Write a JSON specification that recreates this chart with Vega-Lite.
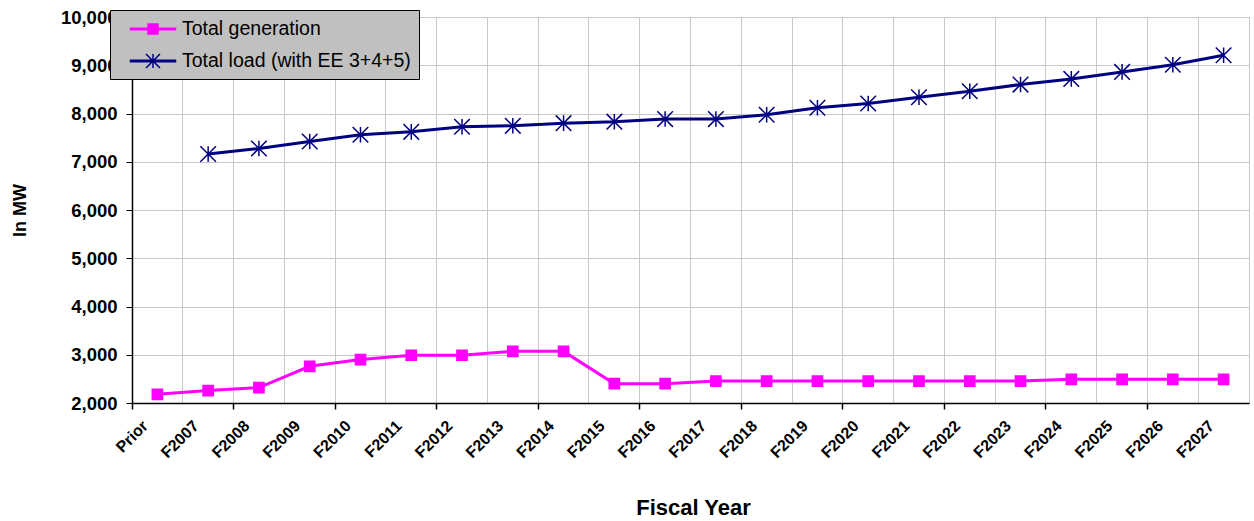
{
  "$schema": "https://vega.github.io/schema/vega-lite/v6.json",
  "width": 1117,
  "height": 386,
  "autosize": {"type": "none"},
  "padding": {"left": 132, "top": 17, "right": 5, "bottom": 118},
  "background": "white",
  "config": {"view": {"stroke": "#c8c8c8"}, "font": "Liberation Sans"},
  "data": {
    "values": [
      {"year": "Prior", "series": "Total generation", "value": 2180},
      {"year": "F2007", "series": "Total generation", "value": 2257},
      {"year": "F2008", "series": "Total generation", "value": 2320},
      {"year": "F2009", "series": "Total generation", "value": 2760},
      {"year": "F2010", "series": "Total generation", "value": 2900},
      {"year": "F2011", "series": "Total generation", "value": 2990},
      {"year": "F2012", "series": "Total generation", "value": 2990},
      {"year": "F2013", "series": "Total generation", "value": 3070},
      {"year": "F2014", "series": "Total generation", "value": 3070},
      {"year": "F2015", "series": "Total generation", "value": 2400},
      {"year": "F2016", "series": "Total generation", "value": 2400},
      {"year": "F2017", "series": "Total generation", "value": 2455},
      {"year": "F2018", "series": "Total generation", "value": 2455},
      {"year": "F2019", "series": "Total generation", "value": 2455},
      {"year": "F2020", "series": "Total generation", "value": 2455},
      {"year": "F2021", "series": "Total generation", "value": 2455},
      {"year": "F2022", "series": "Total generation", "value": 2455},
      {"year": "F2023", "series": "Total generation", "value": 2455},
      {"year": "F2024", "series": "Total generation", "value": 2490},
      {"year": "F2025", "series": "Total generation", "value": 2490},
      {"year": "F2026", "series": "Total generation", "value": 2490},
      {"year": "F2027", "series": "Total generation", "value": 2490},
      {"year": "F2007", "series": "Total load (with EE 3+4+5)", "value": 7160},
      {"year": "F2008", "series": "Total load (with EE 3+4+5)", "value": 7275},
      {"year": "F2009", "series": "Total load (with EE 3+4+5)", "value": 7420},
      {"year": "F2010", "series": "Total load (with EE 3+4+5)", "value": 7560},
      {"year": "F2011", "series": "Total load (with EE 3+4+5)", "value": 7620},
      {"year": "F2012", "series": "Total load (with EE 3+4+5)", "value": 7725},
      {"year": "F2013", "series": "Total load (with EE 3+4+5)", "value": 7745},
      {"year": "F2014", "series": "Total load (with EE 3+4+5)", "value": 7800},
      {"year": "F2015", "series": "Total load (with EE 3+4+5)", "value": 7830},
      {"year": "F2016", "series": "Total load (with EE 3+4+5)", "value": 7885},
      {"year": "F2017", "series": "Total load (with EE 3+4+5)", "value": 7885},
      {"year": "F2018", "series": "Total load (with EE 3+4+5)", "value": 7975},
      {"year": "F2019", "series": "Total load (with EE 3+4+5)", "value": 8120},
      {"year": "F2020", "series": "Total load (with EE 3+4+5)", "value": 8207},
      {"year": "F2021", "series": "Total load (with EE 3+4+5)", "value": 8337},
      {"year": "F2022", "series": "Total load (with EE 3+4+5)", "value": 8462},
      {"year": "F2023", "series": "Total load (with EE 3+4+5)", "value": 8600},
      {"year": "F2024", "series": "Total load (with EE 3+4+5)", "value": 8717},
      {"year": "F2025", "series": "Total load (with EE 3+4+5)", "value": 8862},
      {"year": "F2026", "series": "Total load (with EE 3+4+5)", "value": 9010},
      {"year": "F2027", "series": "Total load (with EE 3+4+5)", "value": 9207}
    ]
  },
  "encoding": {
    "x": {
      "field": "year",
      "type": "ordinal",
      "sort": null,
      "scale": {"type": "band", "paddingInner": 0, "paddingOuter": 0},
      "axis": {
        "title": "Fiscal Year",
        "bandPosition": 0,
        "grid": true,
        "gridColor": "#c8c8c8",
        "gridWidth": 1,
        "domainColor": "#000000",
        "domainWidth": 1.5,
        "tickSize": 6,
        "tickWidth": 1.5,
        "tickColor": {
          "condition": {
            "test": "indexof(['Prior','F2008','F2010','F2012','F2014','F2016','F2018','F2020','F2022','F2024','F2026'], datum.value) >= 0",
            "value": "#000000"
          },
          "value": "transparent"
        },
        "labelAngle": -45,
        "labelAlign": "right",
        "labelBaseline": "middle",
        "labelOffset": -12,
        "labelPadding": 14,
        "labelFont": "Liberation Sans",
        "labelFontWeight": "bold",
        "labelFontSize": 16,
        "labelColor": "#000000",
        "titleFont": "Liberation Sans",
        "titleFontWeight": "bold",
        "titleFontSize": 22,
        "titleColor": "#000000",
        "titleX": 561,
        "titleY": 104,
        "titleAlign": "center",
        "titleBaseline": "middle"
      }
    },
    "y": {
      "field": "value",
      "type": "quantitative",
      "scale": {"domain": [2000, 10000], "nice": false, "zero": false},
      "axis": {
        "title": "In MW",
        "values": [2000, 3000, 4000, 5000, 6000, 7000, 8000, 9000, 10000],
        "format": ",d",
        "grid": true,
        "gridColor": "#c8c8c8",
        "domainColor": "#000000",
        "domainWidth": 1.5,
        "tickColor": "#000000",
        "tickSize": 6,
        "labelPadding": 9,
        "labelFont": "Liberation Sans",
        "labelFontWeight": "bold",
        "labelFontSize": 18.5,
        "labelColor": "#000000",
        "titleFont": "Liberation Sans",
        "titleFontWeight": "bold",
        "titleFontSize": 18,
        "titleColor": "#000000",
        "titleAngle": 270,
        "titleX": -112,
        "titleY": 193,
        "titleAlign": "center",
        "titleBaseline": "middle"
      }
    }
  },
  "layer": [
    {
      "mark": {"type": "line", "strokeWidth": 3},
      "encoding": {
        "stroke": {
          "field": "series",
          "type": "nominal",
          "scale": {
            "domain": ["Total generation", "Total load (with EE 3+4+5)"],
            "range": ["#ff00ff", "#000080"]
          },
          "legend": {
            "orient": "none",
            "legendX": -22,
            "legendY": -7,
            "title": null,
            "fillColor": "#c0c0c0",
            "strokeColor": "#000000",
            "padding": 8,
            "symbolSize": 400,
            "symbolOffset": 24,
            "symbolStrokeWidth": 1.5,
            "labelOffset": 18,
            "labelFont": "Liberation Sans",
            "labelFontSize": 19.5,
            "labelColor": "#000000",
            "labelLimit": 400,
            "rowPadding": 11,
            "encode": {
              "symbols": {
                "update": {
                  "shape": {"signal": "datum.value === 'Total generation' ? 'M-2.25,-0.08H2.25V0.08H-2.25Z M-0.5,-0.5H0.5V0.5H-0.5Z' : 'M-2.25,-0.08H2.25V0.08H-2.25Z M0,-0.7V0.7 M-0.7,-0.7L0.7,0.7 M-0.7,0.7L0.7,-0.7'"},
                  "fill": {"signal": "datum.value === 'Total generation' ? '#ff00ff' : '#000080'"},
                  "stroke": {"signal": "datum.value === 'Total generation' ? '#ff00ff' : '#000080'"},
                  "strokeWidth": {"value": 1.5},
                  "opacity": {"value": 1}
                }
              }
            }
          }
        }
      }
    },
    {
      "transform": [{"filter": "datum.series === 'Total generation'"}],
      "mark": {
        "type": "point",
        "shape": "M-0.85,-0.85H0.85V0.85H-0.85Z",
        "size": 144,
        "filled": true,
        "fill": "#ff00ff",
        "stroke": "#ff00ff",
        "strokeWidth": 1.5,
        "opacity": 1
      }
    },
    {
      "transform": [{"filter": "datum.series !== 'Total generation'"}],
      "mark": {
        "type": "point",
        "shape": "M0,-1.3V1.3M-1.3,-1.3L1.3,1.3M-1.3,1.3L1.3,-1.3",
        "size": 144,
        "filled": false,
        "stroke": "#000080",
        "strokeWidth": 1.5,
        "opacity": 1
      }
    }
  ]
}
